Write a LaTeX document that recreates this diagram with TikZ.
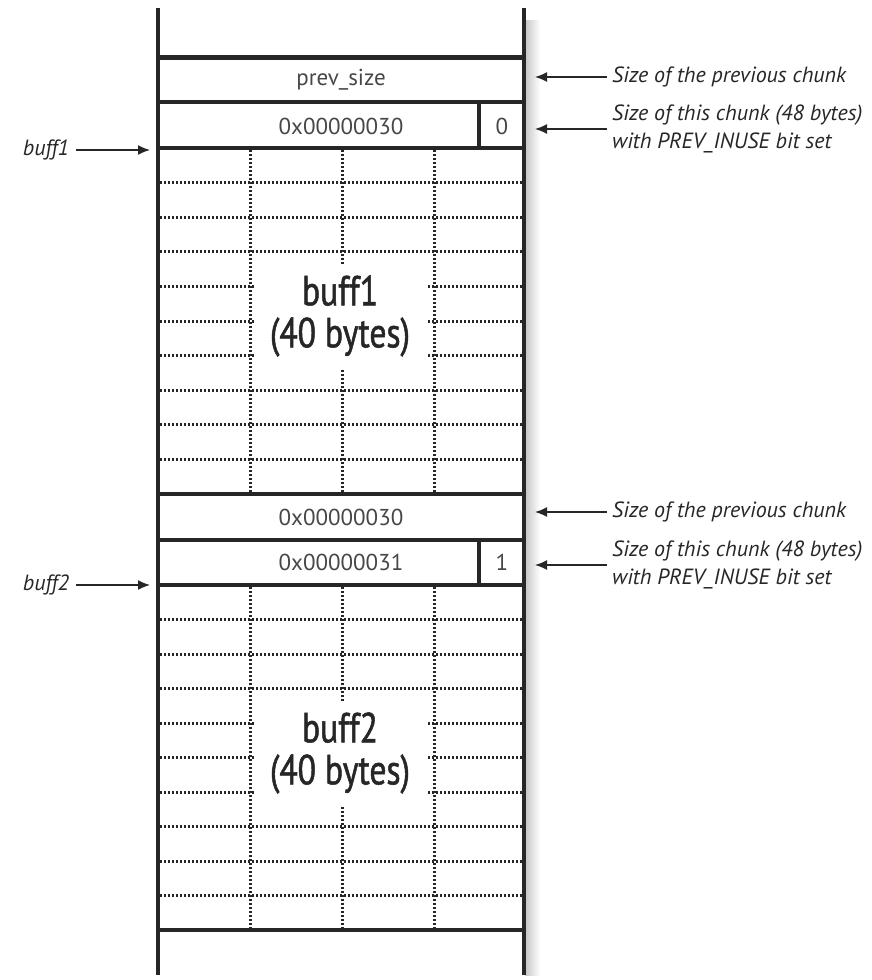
\documentclass[tikz,border=0pt]{standalone}
\usepackage{fontspec}
\setmainfont{PT Sans}
\newfontfamily\cond{PT Sans}[FakeStretch=0.8,FakeBold=1.2]
\usetikzlibrary{arrows.meta}
\definecolor{ink}{HTML}{262626}
\begin{document}
\begin{tikzpicture}[x=1pt,y=-1pt,
  frame/.style={draw=ink,line width=3.8pt},
  gridline/.style={draw=ink,line width=3pt,dash pattern=on 2.4pt off 1.6pt},
  cell/.style={font=\fontsize{23}{26}\selectfont,text=ink!85,inner sep=0pt},
  big/.style={font=\cond\fontsize{42}{42}\selectfont,fill=white,align=center,
    inner sep=0pt,minimum width=172pt,minimum height=104pt,text=ink},
  note/.style={font=\itshape\fontsize{22}{28}\selectfont,align=left,anchor=west,text=ink,inner sep=2pt},
  ptr/.style={-{Latex[length=12pt,width=10pt]},draw=ink,line width=1.5pt}]
\useasboundingbox (0,0) rectangle (872,980);
% shadow
\shade[left color=gray!45,right color=white] (525,20) rectangle (540,975);
% grids
\foreach \k in {1,...,9}{
  \draw[gridline] (160,148+34.6*\k) -- (522,148+34.6*\k);
  \draw[gridline] (160,585+34.5*\k) -- (522,585+34.5*\k);
}
\foreach \x in {250,342,434}{
  \draw[gridline] (\x,150) -- (\x,492);
  \draw[gridline] (\x,587) -- (\x,928);
}
% big labels
\node[big] (b1) at (340,316) {buff1\\(40 bytes)};
\node[big] (b2) at (340,753) {buff2\\(40 bytes)};
% frame
\draw[frame] (158,8) -- (158,975);
\draw[frame] (524,8) -- (524,975);
\draw[draw=ink,line width=5pt] (158,57) -- (524,57);
\foreach \y in {102,148,494,540,585,930}{
  \draw[frame] (158,\y) -- (524,\y);
}
\draw[frame] (479,102) -- (479,148);
\draw[frame] (479,540) -- (479,585);
% cell texts
\node[cell] (ps) at (341,80) {prev\_size};
\node[cell] (s1) at (341,126) {0x00000030};
\node[cell] (f1) at (502,126) {0};
\node[cell] (p2) at (341,517) {0x00000030};
\node[cell] (s2) at (341,562) {0x00000031};
\node[cell] (f2) at (502,562) {1};
% right notes
\coordinate (rx) at (535,0);
\node[note] (n1) at (610,77) {Size of the previous chunk};
\node[note] (n2) at (610,129) {Size of this chunk (48 bytes)\\with PREV\_INUSE bit set};
\node[note] (n3) at (610,512) {Size of the previous chunk};
\node[note] (n4) at (610,565) {Size of this chunk (48 bytes)\\with PREV\_INUSE bit set};
\foreach \n in {n1,n2,n3,n4}{
  \draw[ptr] ([xshift=-3pt]\n.west) -- (\n.west -| rx);
}
% left pointers
\node[note,anchor=center] (l1) at (46,150) {buff1};
\node[note,anchor=center] (l2) at (46,585) {buff2};
\coordinate (lx) at (150,0);
\draw[ptr] ([xshift=5pt]l1.east) -- (l1.east -| lx);
\draw[ptr] ([xshift=5pt]l2.east) -- (l2.east -| lx);
\end{tikzpicture}
\end{document}
